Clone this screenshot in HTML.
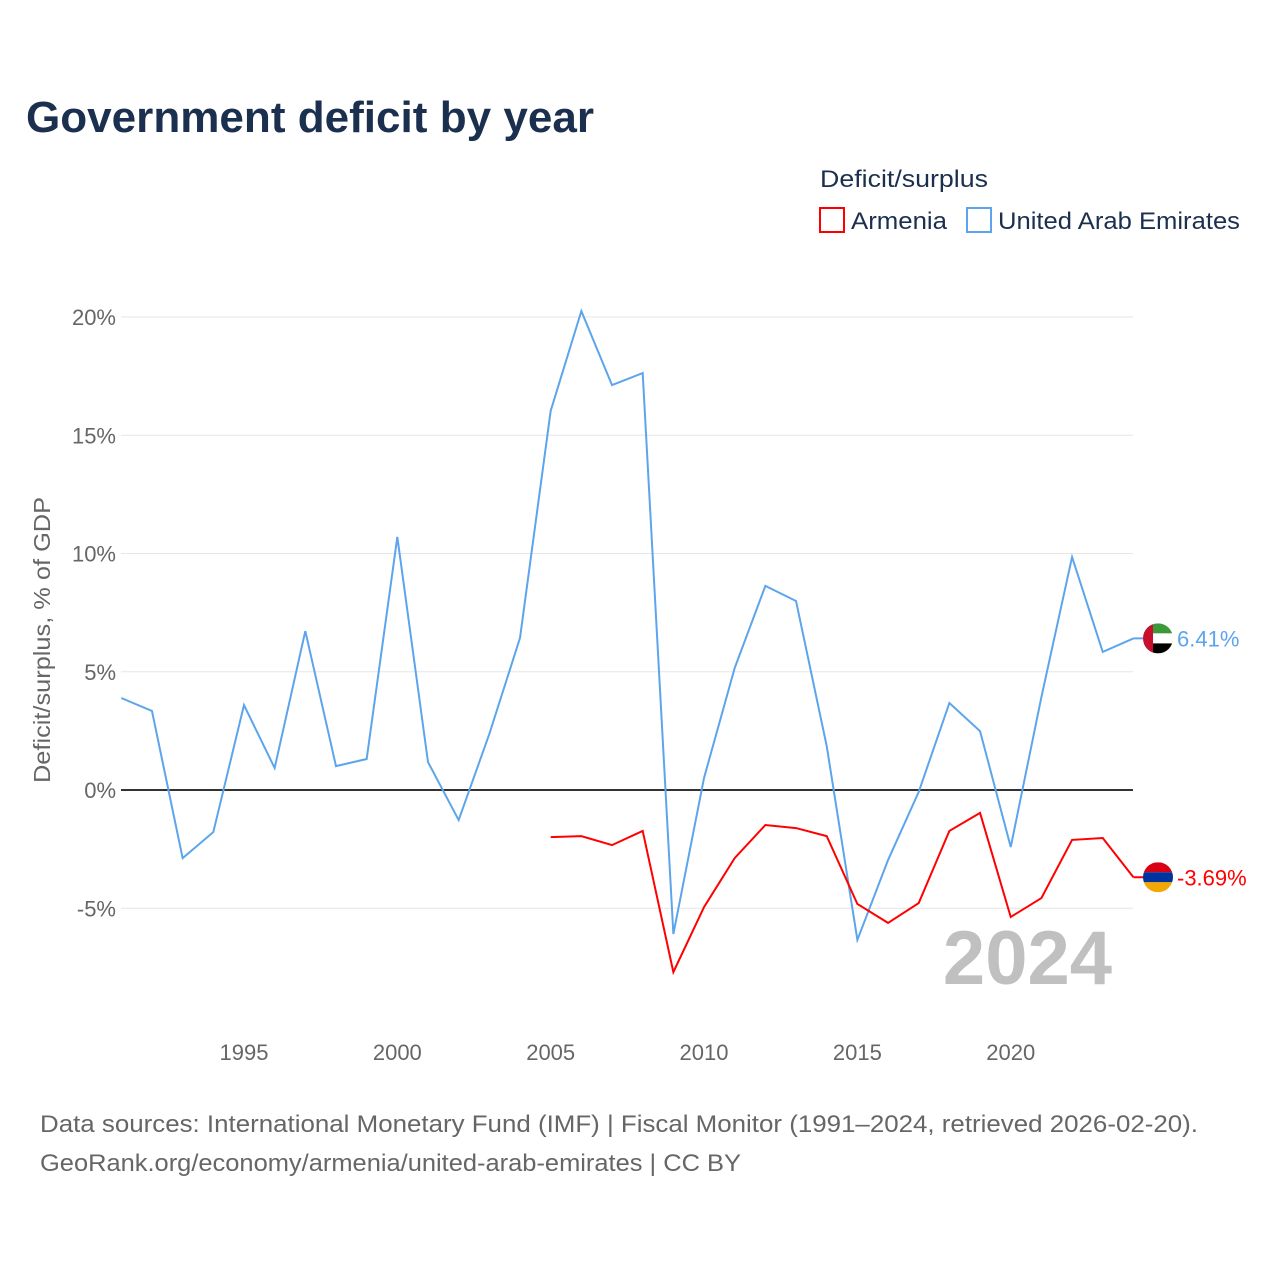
<!DOCTYPE html>
<html><head><meta charset="utf-8"><style>
body{margin:0;background:#fff;font-family:"Liberation Sans",sans-serif}
</style></head><body>
<svg width="1280" height="1280" xmlns="http://www.w3.org/2000/svg" font-family="Liberation Sans, sans-serif">
<text x="26" y="132" font-size="44" font-weight="bold" fill="#1b2f4e" textLength="568" lengthAdjust="spacingAndGlyphs">Government deficit by year</text>
<text x="820" y="187" font-size="24" fill="#1b2f4e" textLength="168" lengthAdjust="spacingAndGlyphs">Deficit/surplus</text>
<g><rect x="820" y="208" width="24" height="24" fill="none" stroke="#ff0000" stroke-width="2"/><text x="851" y="229" font-size="24" fill="#1b2f4e" textLength="96" lengthAdjust="spacingAndGlyphs">Armenia</text></g>
<g><rect x="967" y="208" width="24" height="24" fill="none" stroke="#5ca5ec" stroke-width="2"/><text x="998" y="229" font-size="24" fill="#1b2f4e" textLength="242" lengthAdjust="spacingAndGlyphs">United Arab Emirates</text></g>
<g id="grid"></g><g id="yt"></g><g id="xt"></g>
<text transform="translate(50,640) rotate(-90)" text-anchor="middle" font-size="23" fill="#666" textLength="286" lengthAdjust="spacingAndGlyphs">Deficit/surplus, % of GDP</text>
<text x="1112" y="984" text-anchor="end" font-size="76" font-weight="bold" fill="#c0c0c0">2024</text>
<g id="series"></g>
<text x="40" y="1132" font-size="24" fill="#666" textLength="1158" lengthAdjust="spacingAndGlyphs">Data sources: International Monetary Fund (IMF) | Fiscal Monitor (1991–2024, retrieved 2026-02-20).</text>
<text x="40" y="1171" font-size="24" fill="#666" textLength="701" lengthAdjust="spacingAndGlyphs">GeoRank.org/economy/armenia/united-arab-emirates | CC BY</text>
</svg>
<script>
const yTicks=[-5,0,5,10,15,20];
const xTicks=[1995,2000,2005,2010,2015,2020];
const uaeYears=[1991,1992,1993,1994,1995,1996,1997,1998,1999,2000,2001,2002,2003,2004,2005,2006,2007,2008,2009,2010,2011,2012,2013,2014,2015,2016,2017,2018,2019,2020,2021,2022,2023,2024];
const uaeValues=[3.89,3.34,-2.88,-1.78,3.59,0.93,6.72,1.01,1.31,10.70,1.18,-1.27,2.37,6.43,16.03,20.25,17.12,17.63,-6.09,0.51,5.16,8.63,7.99,1.86,-6.34,-2.96,-0.08,3.68,2.49,-2.41,3.93,9.85,5.84,6.41];
const armYears=[2005,2006,2007,2008,2009,2010,2011,2012,2013,2014,2015,2016,2017,2018,2019,2020,2021,2022,2023,2024];
const armValues=[-1.99,-1.95,-2.33,-1.73,-7.70,-4.95,-2.88,-1.48,-1.61,-1.95,-4.82,-5.62,-4.78,-1.73,-0.97,-5.37,-4.57,-2.11,-2.03,-3.69];
const NS="http://www.w3.org/2000/svg";
const x=yr=>121.3+(yr-1991)*30.67;
const y=v=>790-v*23.65;
function mk(t,a,p){const e=document.createElementNS(NS,t);for(const k in a)e.setAttribute(k,a[k]);p.appendChild(e);return e;}
const grid=document.getElementById('grid'),yt=document.getElementById('yt'),xt=document.getElementById('xt'),ser=document.getElementById('series');
yTicks.forEach(v=>{
 const l=mk('line',{x1:121,x2:1133,y1:y(v),y2:y(v),stroke:v===0?'#333':'#e6e6e6','stroke-width':v===0?2:1},grid);
 
 
 const t=mk('text',{x:116,y:y(v)+8,'text-anchor':'end','font-size':22,fill:'#666'},yt);
 t.textContent=v+'%';
 
 
});
xTicks.forEach(v=>{
 const t=mk('text',{x:x(v),y:1060,'text-anchor':'middle','font-size':22,fill:'#666'},xt);
 t.textContent=v;
 
 
});
function line(xs,vs,c,name){
 const p=mk('polyline',{points:xs.map((yr,i)=>x(yr)+','+y(vs[i])).join(' '),fill:'none',stroke:c,'stroke-width':2},ser);
 
 
}
line(uaeYears,uaeValues,'#5ca5ec','uae-line');
line(armYears,armValues,'#ff0000','armenia-line');
function endLabel(v,c,name,flag){
 const cx=1158,cy=y(v);
 mk('line',{x1:x(2024),x2:cx,y1:cy,y2:cy,stroke:c,'stroke-width':2},ser);
 const g=mk('g',{},ser);
 
 
 const id='clip'+name;
 const cp=mk('clipPath',{id:id},g);mk('circle',{cx:cx,cy:cy,r:15},cp);
 const gg=mk('g',{'clip-path':'url(#'+id+')'},g);
 flag(gg,cx,cy);
 const t=mk('text',{x:1177,y:cy+8,'font-size':22,fill:c},ser);
 t.textContent=v.toFixed(2)+'%';
 
 
}
endLabel(uaeValues[uaeValues.length-1],'#5ca5ec','uae',(g,cx,cy)=>{
 mk('rect',{x:cx-15,y:cy-15,width:30,height:10,fill:'#3a9a3a'},g);
 mk('rect',{x:cx-15,y:cy-5,width:30,height:10,fill:'#fff'},g);
 mk('rect',{x:cx-15,y:cy+5,width:30,height:10,fill:'#000'},g);
 mk('rect',{x:cx-15,y:cy-15,width:10,height:30,fill:'#c8102e'},g);
});
endLabel(armValues[armValues.length-1],'#ff0000','armenia',(g,cx,cy)=>{
 mk('rect',{x:cx-15,y:cy-15,width:30,height:10,fill:'#d90012'},g);
 mk('rect',{x:cx-15,y:cy-5,width:30,height:10,fill:'#0033a0'},g);
 mk('rect',{x:cx-15,y:cy+5,width:30,height:10,fill:'#f2a800'},g);
});
</script>
</body></html>
